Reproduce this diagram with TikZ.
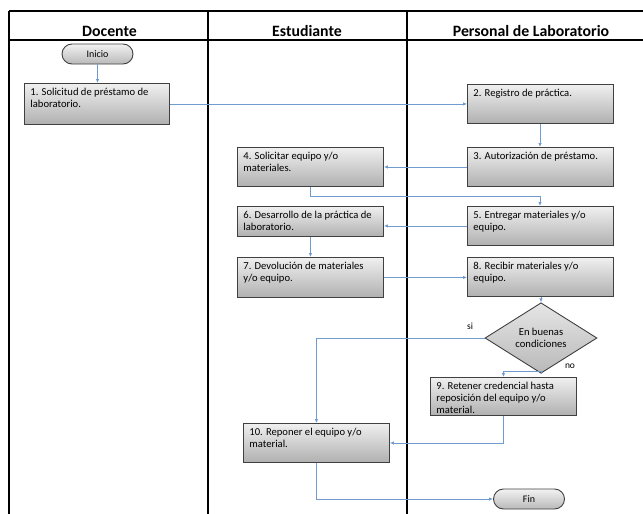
\documentclass[tikz,border=0pt]{standalone}
\usepackage{fontspec}
\setmainfont{Carlito}
\usetikzlibrary{shapes.geometric,shapes.misc,arrows.meta,calc}
\newcommand{\bxt}[3]{\parbox[c][#2][t]{#1}{\raggedright #3}}
\definecolor{conn}{HTML}{6F9BD1}
\definecolor{bord}{HTML}{404040}
\tikzset{
  lane/.style={line width=1.1pt, black},
  lanethick/.style={line width=1.8pt, black},
  hdr/.style={font=\fontsize{15.8}{18}\selectfont\bfseries, inner sep=0pt},
  procbox/.style={draw=bord, line width=0.9pt, top color=gray!12, bottom color=gray!62, inner xsep=6pt, inner ysep=5pt, anchor=north west, font=\fontsize{10.6}{12}\selectfont},
  term/.style={draw=bord, line width=0.9pt, rounded rectangle, top color=gray!10, bottom color=gray!55, minimum width=71pt, minimum height=20pt, inner sep=0pt, font=\fontsize{10}{11}\selectfont},
  decis/.style={draw=bord, line width=0.9pt, diamond, top color=gray!20, bottom color=gray!55, minimum width=112pt, minimum height=57pt, inner sep=0pt, align=center, font=\fontsize{10.6}{12}\selectfont},
  flow/.style={conn, line width=0.8pt, -{Latex[length=4pt,width=3.5pt]}},
  lbl/.style={font=\fontsize{9.5}{10}\selectfont, inner sep=0pt}
}
\begin{document}
\begin{tikzpicture}[x=1pt,y=-1pt]
\useasboundingbox (0,0) rectangle (643,514);
% frame
\coordinate (tl) at (9,11);
\coordinate (tr) at (643,11);
\coordinate (hl) at (9,40);
\coordinate (hr) at (643,40);
\coordinate (bl) at (9,514);
\coordinate (d1t) at (208,11);
\coordinate (d1b) at (208,514);
\coordinate (d2t) at (407,11);
\coordinate (d2b) at (407,514);
\draw[lane] (tl) -- (tr);
\draw[lane] (hl) -- (hr);
\draw[lane] (tl) -- (bl);
\draw[lane] (d1t) -- (d1b);
\draw[lanethick] (d2t) -- (d2b);
\node[hdr] (h1) at (109.5,31) {Docente};
\node[hdr] (h2) at (307,31) {Estudiante};
\node[hdr] (h3) at (531,31) {Personal de Laboratorio};
% terminators
\node[term] (ini) at (97.5,54) {Inicio};
\node[term] (fin) at (529,499) {Fin};
% boxes
\node[procbox] (b1) at (24,83) {\bxt{133pt}{31pt}{1. Solicitud de préstamo de\\laboratorio.}};
\node[procbox] (b2) at (467,84) {\bxt{134pt}{29pt}{2. Registro de práctica.}};
\node[procbox] (b3) at (467,147) {\bxt{134pt}{29pt}{3. Autorización de préstamo.}};
\node[procbox] (b4) at (237,147) {\bxt{134pt}{29pt}{4. Solicitar equipo y/o\\materiales.}};
\node[procbox] (b5) at (467,206) {\bxt{134pt}{29pt}{5. Entregar materiales y/o\\equipo.}};
\node[procbox] (b6) at (237,206) {\bxt{134pt}{20pt}{6. Desarrollo de la práctica de\\laboratorio.}};
\node[procbox] (b7) at (237,257) {\bxt{134pt}{30pt}{7. Devolución de materiales\\y/o equipo.}};
\node[procbox] (b8) at (467,257) {\bxt{134pt}{29pt}{8. Recibir materiales y/o\\equipo.}};
\node[decis] (dc) at (541,338) {En buenas\\condiciones};
\node[procbox] (b9) at (430,377) {\bxt{134pt}{28pt}{9. Retener credencial hasta\\reposición del equipo y/o\\material.}};
\node[procbox] (b10) at (243,423) {\bxt{134pt}{29pt}{10. Reponer el equipo y/o\\material.}};
\node[lbl] (si) at (470,326) {si};
\node[lbl] (no) at (570,366) {no};
% connectors
\coordinate (j45) at (540,196);
\coordinate (jd9) at (541,371);
\draw[flow] (ini) -- (ini |- b1.north);
\draw[flow] (b1.east) -- (b1.east -| b2.west);
\draw[flow] (b2.south -| 540,0) -- (540,147);
\draw[flow] (b3.west) -- (b3.west -| b4.east);
\draw[flow] (b4.south) |- (j45) -- (j45 |- b5.north);
\draw[flow] (b5.west) -- (b5.west -| b6.east);
\draw[flow] (b6.south) -- (b7.north);
\draw[flow] (b7.east) -- (b7.east -| b8.west);
\draw[flow] (b8.south -| dc.north) -- (dc.north);
\draw[flow] (dc.west) -| (b10.north);
\draw[flow] (dc.south) -- (jd9) -| (b9.north);
\draw[flow] (b9.south) |- (b10.east);
\draw[flow] (b10.south) |- (fin.west);
\end{tikzpicture}
\end{document}
